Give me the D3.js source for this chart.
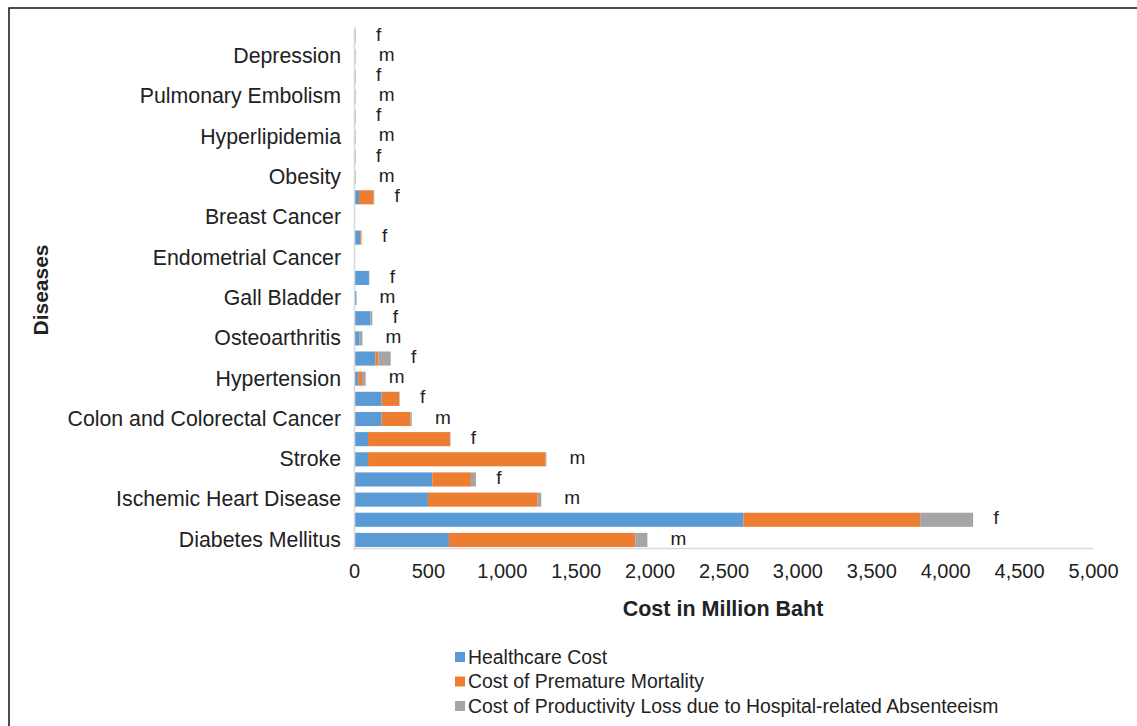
<!DOCTYPE html>
<html>
<head>
    <title>Cost by Disease</title>
    <script src="https://d3js.org/d3.v7.min.js"></script>
    <style>
        body { margin: 0; background: #fff; }
        text { font-family: "Liberation Sans", Arial, sans-serif; fill: #222; }
    </style>
</head>
<body>
    <div id="container"></div>
    <script>
        const width = 1137;
        const height = 726;

        // bottom to top
        const diseases = ['Diabetes Mellitus', 'Ischemic Heart Disease', 'Stroke', 'Colon and Colorectal Cancer',
            'Hypertension', 'Osteoarthritis', 'Gall Bladder', 'Endometrial Cancer', 'Breast Cancer',
            'Obesity', 'Hyperlipidemia', 'Pulmonary Embolism', 'Depression'];
        const seriesNames = ['Healthcare Cost', 'Cost of Premature Mortality',
            'Cost of Productivity Loss due to Hospital-related Absenteeism'];
        const colors = ['#5b9bd5', '#ed7d31', '#a5a5a5'];
        const xTicks = [0, 500, 1000, 1500, 2000, 2500, 3000, 3500, 4000, 4500, 5000];

        // female rows (million baht)
        const healthcareF = [2635, 530, 95, 187, 145, 110, 101, 42, 34, 3, 3, 3, 3];
        const mortalityF  = [1196, 261, 554, 119, 20, 0, 0, 8, 99, 0, 0, 0, 0];
        const lossF       = [358, 34, 4, 3, 83, 14, 3, 2, 4, 8, 8, 8, 8];
        // male rows (null = no bar)
        const healthcareM = [642, 500, 95, 187, 29, 38, 14, null, null, 3, 3, 3, 3];
        const mortalityM  = [1262, 743, 1202, 194, 25, 0, 0, null, null, 0, 0, 0, 0];
        const lossM       = [81, 24, 5, 10, 25, 19, 3, null, null, 8, 8, 8, 8];

        // build rows top to bottom: f then m for each disease
        const rows = [];
        for (let i = diseases.length - 1; i >= 0; i--) {
            rows.push({ id: i + 'f', sex: 'f', disease: diseases[i], vals: [healthcareF[i], mortalityF[i], lossF[i]] });
            rows.push({ id: i + 'm', sex: 'm', disease: diseases[i], vals: [healthcareM[i], mortalityM[i], lossM[i]] });
        }

        const x = d3.scaleLinear().domain([0, 5000]).range([354, 1093]);
        const y = d3.scaleBand().domain(rows.map(r => r.id)).range([26, 550]).paddingInner(0.3).paddingOuter(0.15);

        const svg = d3.select("#container").append("svg")
            .attr("width", width)
            .attr("height", height);

        // outer frame
        svg.append("rect")
            .attr("x", 9).attr("y", 8)
            .attr("width", width).attr("height", height)
            .attr("fill", "none").attr("stroke", "#111").attr("stroke-width", 1.5);

        // stacked bars
        rows.forEach(r => {
            if (r.vals[0] == null) return;
            let acc = 0;
            r.vals.forEach((v, k) => {
                if (v > 0) {
                    svg.append("rect")
                        .attr("x", x(acc))
                        .attr("y", y(r.id))
                        .attr("width", x(acc + v) - x(acc))
                        .attr("height", y.bandwidth())
                        .attr("fill", colors[k]);
                }
                acc += v;
            });
            svg.append("text")
                .attr("x", x(acc) + (r.sex === 'f' ? 23 : 31))
                .attr("y", y(r.id) + y.bandwidth() / 2 - 2)
                .attr("dy", "0.35em")
                .attr("text-anchor", "middle")
                .attr("font-size", 19)
                .text(r.sex);
        });

        // x axis
        const xAxis = svg.append("g")
            .attr("transform", "translate(0,548)")
            .call(d3.axisBottom(x).tickValues(xTicks).tickSize(0).tickPadding(16).tickFormat(d3.format(",")));
        xAxis.select(".domain").attr("stroke", "#d9d9d9").attr("stroke-width", 1.5);
        xAxis.selectAll("text").attr("font-size", 20).attr("font-family", "Liberation Sans, Arial, sans-serif").attr("fill", "#222");

        // y axis, labels on male rows
        const yAxis = svg.append("g")
            .attr("transform", "translate(354,0)")
            .call(d3.axisLeft(y)
                .tickValues(rows.filter(r => r.sex === 'm').map(r => r.id))
                .tickFormat(id => rows.find(r => r.id === id).disease)
                .tickSize(0).tickPadding(13));
        yAxis.select(".domain").attr("stroke", "#d9d9d9").attr("stroke-width", 1.5);
        yAxis.selectAll("text").attr("font-size", 21.3).attr("font-family", "Liberation Sans, Arial, sans-serif").attr("fill", "#222");

        // axis titles
        svg.append("text")
            .attr("x", 723).attr("y", 616)
            .attr("text-anchor", "middle")
            .attr("font-size", 21.5).attr("font-weight", "bold")
            .text("Cost in Million Baht");

        svg.append("text")
            .attr("transform", "translate(48,290) rotate(-90)")
            .attr("text-anchor", "middle")
            .attr("font-size", 21).attr("font-weight", "bold")
            .text("Diseases");

        // legend
        const legend = svg.append("g").attr("transform", "translate(455,657)");
        seriesNames.forEach((name, k) => {
            legend.append("rect")
                .attr("x", 0).attr("y", k * 24.5 - 5)
                .attr("width", 10).attr("height", 10)
                .attr("fill", colors[k]);
            legend.append("text")
                .attr("x", 13).attr("y", k * 24.5)
                .attr("dy", "0.35em")
                .attr("font-size", 19.4)
                .text(name);
        });
    </script>
</body>
</html>
